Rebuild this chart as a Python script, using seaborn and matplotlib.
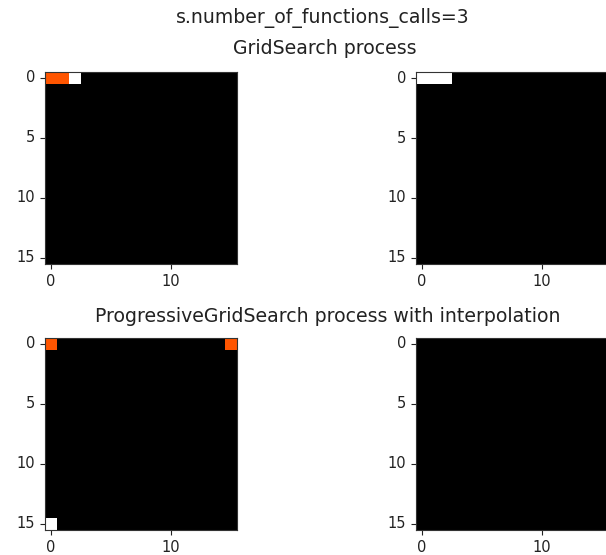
import numpy as np
import matplotlib
matplotlib.use("Agg")
import matplotlib.pyplot as plt
import seaborn as sns

sns.set_style("white")
plt.rcParams['font.family'] = ['DejaVu Sans']
plt.rcParams['text.color'] = '#222222'

# data: (row, col, value) of non-zero cells in each 16x16 grid
grid_size = 16
gs_evaluated = [(0, 0, 2), (0, 1, 2), (0, 2, 3)]
gs_state = [(0, 0, 3), (0, 1, 3), (0, 2, 3)]
pgs_evaluated = [(0, 0, 2), (0, 15, 2), (15, 0, 3)]
pgs_state = []

suptitle = "s.number_of_functions_calls=3"
top_title = "GridSearch process"
bottom_title = "ProgressiveGridSearch process with interpolation"
tick_x = [0, 10]
tick_y = [0, 5, 10, 15]


def make_grid(cells):
    g = np.zeros((grid_size, grid_size))
    for r, c, v in cells:
        g[r, c] = v
    return g


fig = plt.figure(figsize=(6.06, 5.55), dpi=100)
W, H = 606, 555
boxes = {
    "tl": (45, 72), "tr": (416, 72),
    "bl": (45, 338), "br": (416, 338),
}
size = 192
grids = {"tl": gs_evaluated, "tr": gs_state, "bl": pgs_evaluated, "br": pgs_state}

for key, (x0, y0) in boxes.items():
    ax = fig.add_axes([x0 / W, 1 - (y0 + size) / H, size / W, size / H])
    sns.heatmap(make_grid(grids[key]), ax=ax, cmap="gist_heat", vmin=0, vmax=3,
                cbar=False, square=True)
    ax.set_xticks([t + 0.5 for t in tick_x])
    ax.set_xticklabels([str(t) for t in tick_x], rotation=0)
    ax.set_yticks([t + 0.5 for t in tick_y])
    ax.set_yticklabels([str(t) for t in tick_y], rotation=0)
    ax.tick_params(axis="both", which="both", length=3.5, width=0.8,
                   bottom=True, left=True, labelsize=10.5, color="#222222",
                   labelcolor="#222222")
    for s in ax.spines.values():
        s.set_visible(True)
        s.set_color("#333333")
        s.set_linewidth(0.8)

fig.text(323 / W, 1 - 18 / H, suptitle, ha="center", va="center", fontsize=13.6)
fig.text(325 / W, 1 - 48 / H, top_title, ha="center", va="center", fontsize=13.6)
fig.text(327.5 / W, 1 - 317 / H, bottom_title, ha="center", va="center", fontsize=13.6)

fig.savefig("out.png", dpi=100)
